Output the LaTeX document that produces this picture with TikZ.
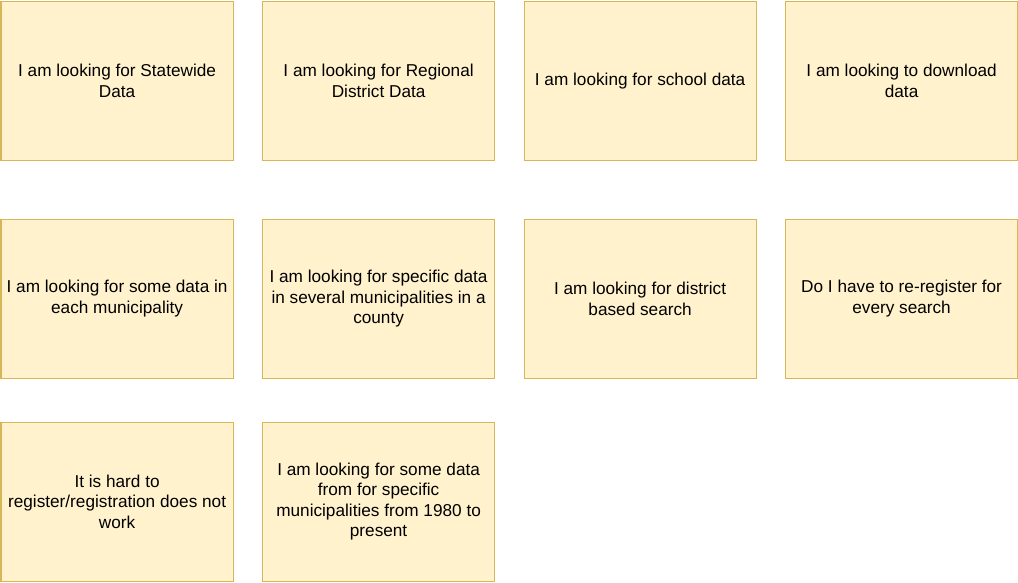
\documentclass[tikz,border=0pt]{standalone}
\usepackage{fontspec}
\setmainfont{Liberation Sans}
\definecolor{notefill}{HTML}{FFF2CC}
\definecolor{noteline}{HTML}{D6B656}
\tikzset{
  note/.style={draw=noteline, fill=notefill, line width=1.2pt, anchor=north west,
    minimum width=232pt, minimum height=159pt, inner sep=0pt, align=center,
    font=\fontsize{17.2}{20.5}\selectfont, text=black}
}
\begin{document}
\begin{tikzpicture}[x=1pt, y=-1pt]
  \useasboundingbox (0,0) rectangle (1018,582);
  % first row
  \node[note] (statewide) at (0.5,0.5) {I am looking for Statewide\\Data};
  \node[note] (regional) at (262,0.5) {I am looking for Regional\\District Data};
  \node[note] (school) at (523.5,0.5) {I am looking for school data};
  \node[note] (download) at (785,0.5) {I am looking to download\\data};
  % second row
  \node[note] (eachmuni) at (0.5,218.5) {I am looking for some data in\\each municipality};
  \node[note] (county) at (262,218.5) {I am looking for specific data\\in several municipalities in a\\county};
  \node[note] (district) at (523.5,218.5) {I am looking for district\\based search};
  \node[note] (reregister) at (785,218.5) {Do I have to re-register for\\every search};
  % third row
  \node[note] (register) at (0.5,421.5) {It is hard to\\register/registration does not\\work};
  \node[note] (since) at (262,421.5) {I am looking for some data\\from for specific\\municipalities from 1980 to\\present};
\end{tikzpicture}
\end{document}
